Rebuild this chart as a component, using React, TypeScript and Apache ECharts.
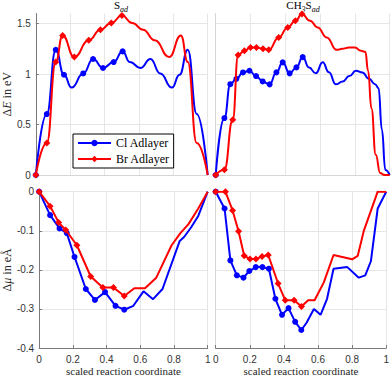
import React, { useEffect, useRef } from 'react';
import * as echarts from 'echarts';

// ---- Data (scaled reaction coordinate, value) ----
// Top-left: S_ad, Delta E (eV)
const tlClX = [0, 0.064, 0.116, 0.164, 0.208, 0.276, 0.333, 0.391, 0.453, 0.505, 0.547, 0.609, 0.667, 0.724, 0.792, 0.836, 0.884, 0.936, 1.0];
const tlClY = [0, 0.604, 1.24, 0.993, 0.866, 1.006, 1.149, 1.06, 1.119, 1.225, 1.119, 1.06, 1.149, 1.006, 0.866, 0.993, 1.24, 0.604, 0];
const tlClMarked = [0, 1, 2, 3, 5, 6, 7, 8, 9];

const tlBrX = [0, 0.064, 0.116, 0.156, 0.224, 0.308, 0.376, 0.439, 0.501, 0.561, 0.624, 0.692, 0.776, 0.844, 0.884, 0.936, 1.0];
const tlBrY = [0, 0.317, 1.119, 1.383, 1.168, 1.334, 1.439, 1.505, 1.581, 1.505, 1.439, 1.334, 1.168, 1.383, 1.119, 0.317, 0];
const tlBrMarked = [0, 1, 2, 3, 4, 5, 6, 7, 8];

// Top-right: CH3S_ad, Delta E (eV)
const trClX = [0, 0.05, 0.084, 0.119, 0.157, 0.194, 0.232, 0.27, 0.31, 0.349, 0.385, 0.425, 0.464, 0.5, 0.536, 0.575, 0.615, 0.651, 0.69, 0.73, 0.768, 0.806, 0.843, 0.881, 0.916, 0.936, 0.955, 0.975, 1.0];
const trClY = [0, 0.564, 0.9, 0.953, 1.016, 1.033, 0.98, 0.927, 0.898, 1.017, 1.116, 1.007, 1.066, 1.168, 1.066, 1.007, 1.116, 1.017, 0.898, 0.927, 0.98, 1.033, 1.016, 0.953, 0.9, 0.86, 0.45, 0.05, 0];
const trClMarked = [0, 1, 2, 3, 4, 5, 6, 7, 8, 9, 10, 11, 12, 13];

const trBrX = [0, 0.05, 0.098, 0.129, 0.165, 0.2, 0.234, 0.272, 0.305, 0.362, 0.414, 0.458, 0.496, 0.542, 0.586, 0.638, 0.695, 0.728, 0.766, 0.8, 0.835, 0.86, 0.876, 0.895, 0.92, 0.945, 0.97, 1.0];
const trBrY = [0, 0.053, 0.548, 1.19, 1.23, 1.264, 1.264, 1.25, 1.24, 1.363, 1.462, 1.528, 1.594, 1.528, 1.462, 1.363, 1.24, 1.25, 1.264, 1.264, 1.23, 1.22, 1.03, 0.66, 0.2, 0.02, 0, 0];
const trBrMarked = [0, 1, 2, 3, 4, 5, 6, 7, 8, 9, 10, 11, 12];

// Bottom-left: S_ad, Delta mu (eÅ)
const blClX = [0, 0.065, 0.121, 0.164, 0.21, 0.277, 0.331, 0.391, 0.453, 0.505, 0.559, 0.619, 0.676, 0.732, 0.834, 0.86, 0.902, 0.944, 1.0];
const blClY = [0, -0.06, -0.094, -0.106, -0.167, -0.249, -0.277, -0.257, -0.292, -0.302, -0.292, -0.255, -0.275, -0.249, -0.126, -0.116, -0.091, -0.062, 0];
const blClMarked = [0, 1, 2, 3, 4, 5, 6, 7, 8, 9];

const blBrX = [0, 0.065, 0.116, 0.158, 0.224, 0.306, 0.378, 0.441, 0.505, 0.565, 0.628, 0.695, 0.786, 0.838, 0.886, 0.944, 1.0];
const blBrY = [0, -0.037, -0.079, -0.098, -0.137, -0.217, -0.245, -0.245, -0.267, -0.247, -0.247, -0.22, -0.137, -0.106, -0.083, -0.043, 0];
const blBrMarked = [0, 1, 2, 3, 4, 5, 6, 7, 8];

// Bottom-right: CH3S_ad, Delta mu (eÅ)
const brClX = [0, 0.052, 0.086, 0.124, 0.163, 0.197, 0.235, 0.274, 0.312, 0.35, 0.389, 0.427, 0.466, 0.502, 0.532, 0.576, 0.615, 0.653, 0.691, 0.772, 0.839, 0.877, 0.91, 0.95, 1.0];
const brClY = [0, -0.043, -0.176, -0.214, -0.22, -0.203, -0.193, -0.193, -0.197, -0.274, -0.315, -0.298, -0.333, -0.354, -0.336, -0.3, -0.315, -0.274, -0.197, -0.193, -0.22, -0.214, -0.178, -0.043, 0];
const brClMarked = [0, 1, 2, 3, 4, 5, 6, 7, 8, 9, 10, 11, 12, 13];

const brBrX = [0, 0.057, 0.099, 0.134, 0.167, 0.201, 0.236, 0.272, 0.308, 0.366, 0.408, 0.46, 0.503, 0.542, 0.58, 0.634, 0.691, 0.8, 0.833, 0.868, 0.91, 0.95, 1.0];
const brBrY = [0, 0, -0.048, -0.101, -0.164, -0.172, -0.172, -0.166, -0.162, -0.235, -0.278, -0.278, -0.294, -0.278, -0.278, -0.232, -0.162, -0.173, -0.164, -0.101, -0.049, 0, 0];
const brBrMarked = [0, 1, 2, 3, 4, 5, 6, 7, 8, 9, 10, 11, 12];

const seriesNames = ['Cl Adlayer', 'Br Adlayer'];
const xTicks = { min: 0, max: 1, interval: 0.2 };
const xLabel = 'scaled reaction coordinate';

const BLUE = '#0000ff';
const RED = '#ff0000';
const SERIF = '"Liberation Serif", "Times New Roman", serif';
const SANS = '"Liberation Sans", Arial, sans-serif';

function buildData(xs: number[], ys: number[], marked: number[]) {
  return xs.map((x, i) => (marked.includes(i) ? { value: [x, ys[i]] } : { value: [x, ys[i]], symbol: 'none' }));
}

export default function App() {
  const ref = useRef<HTMLDivElement>(null);

  useEffect(() => {
    if (!ref.current) return;
    const chart = echarts.init(ref.current, undefined, { renderer: 'svg' });

    const grids = [
      { left: 34, top: 13.5, width: 173.7, height: 161.5 },
      { left: 215.7, top: 13.5, width: 174, height: 161.5 },
      { left: 34, top: 191.7, width: 173.7, height: 161 },
      { left: 215.7, top: 191.7, width: 174, height: 161 },
    ];

    const darkAxis = '#7a7a7a';
    const lightAxis = '#d6d6d6';
    const gridColor = '#e6e6e6';

    const xAxes = grids.map((_, g) => {
      const bottom = g >= 2;
      return {
        gridIndex: g,
        type: 'value',
        min: xTicks.min,
        max: xTicks.max,
        interval: xTicks.interval,
        axisLine: { show: true, onZero: false, lineStyle: { color: bottom ? darkAxis : lightAxis, width: 1 } },
        axisTick: { show: bottom, inside: true, length: 3, lineStyle: { color: darkAxis } },
        axisLabel: { show: bottom, fontSize: 10, color: '#333', margin: 6, fontFamily: SANS },
        splitLine: { show: true, lineStyle: { color: gridColor, width: 1 } },
        name: bottom ? xLabel : '',
        nameLocation: 'middle',
        nameGap: 17,
        nameTextStyle: { fontFamily: SERIF, fontSize: 11, color: '#262626' },
      };
    });

    const yAxes = grids.map((_, g) => {
      const top = g < 2;
      const left = g % 2 === 0;
      const base: any = {
        gridIndex: g,
        type: 'value',
        axisLine: { show: true, onZero: false, lineStyle: { color: left ? darkAxis : lightAxis, width: 1 } },
        axisTick: { show: left, inside: true, length: 3, lineStyle: { color: darkAxis } },
        axisLabel: { show: left, fontSize: 10, color: '#333', margin: 5, fontFamily: SANS, showMaxLabel: !top },
        splitLine: { show: true, showMaxLine: !top, lineStyle: { color: gridColor, width: 1 } },
        nameLocation: 'middle',
        nameGap: 22,
        nameTextStyle: {
          fontFamily: SERIF,
          fontSize: 12,
          color: '#262626',
          rich: { i: { fontFamily: SERIF, fontSize: 12, fontStyle: 'italic', color: '#262626' } },
        },
      };
      if (top) {
        base.min = 0; base.max = 1.6; base.interval = 0.5;
        if (left) base.name = '\u0394{i|E} in eV';
      } else {
        base.min = -0.4; base.max = 0; base.interval = 0.1;
        if (left) base.name = '\u0394{i|\u03bc} in e\u00c5';
      }
      return base;
    });

    const sets = [
      [tlClX, tlClY, tlClMarked, tlBrX, tlBrY, tlBrMarked],
      [trClX, trClY, trClMarked, trBrX, trBrY, trBrMarked],
      [blClX, blClY, blClMarked, blBrX, blBrY, blBrMarked],
      [brClX, brClY, brClMarked, brBrX, brBrY, brBrMarked],
    ] as any[];

    const series: any[] = [];
    sets.forEach((s, g) => {
      const smooth = g < 2 ? 0.5 : false;
      series.push({
        type: 'line', name: seriesNames[0], xAxisIndex: g, yAxisIndex: g,
        data: buildData(s[0], s[1], s[2]), smooth, smoothMonotone: 'x',
        symbol: 'circle', symbolSize: 6, showSymbol: true,
        lineStyle: { width: 2, color: BLUE }, itemStyle: { color: BLUE }, z: 2,
      });
      series.push({
        type: 'line', name: seriesNames[1], xAxisIndex: g, yAxisIndex: g,
        data: buildData(s[3], s[4], s[5]), smooth, smoothMonotone: 'x',
        symbol: 'diamond', symbolSize: 7, showSymbol: true,
        lineStyle: { width: 2, color: RED }, itemStyle: { color: RED }, z: 3,
      });
    });

    const titleRich = {
      n: { fontFamily: SERIF, fontSize: 11, color: '#262626', lineHeight: 12, verticalAlign: 'top' },
      s: { fontFamily: SERIF, fontSize: 8, fontStyle: 'italic', color: '#262626', lineHeight: 8, verticalAlign: 'top', padding: [6, 0, 0, 0] },
    };

    chart.setOption({
      animation: false,
      grid: grids,
      xAxis: xAxes,
      yAxis: yAxes,
      series,
      legend: {
        data: seriesNames,
        orient: 'vertical',
        left: 73,
        top: 134,
        padding: [3, 4, 3, 4],
        itemWidth: 33,
        itemHeight: 8,
        itemGap: 4,
        backgroundColor: '#ffffff',
        borderColor: '#000000',
        borderWidth: 1,
        borderRadius: 0,
        textStyle: { fontFamily: SERIF, fontSize: 12, color: '#000' },
      },
      graphic: [
        { type: 'text', x: 121, y: -1, style: { text: '{n|S}{s|ad}', rich: titleRich, align: 'center', verticalAlign: 'top' } },
        { type: 'text', x: 303, y: -1, style: { text: '{n|CH}{s|3}{n|S}{s|ad}', rich: titleRich, align: 'center', verticalAlign: 'top' } },
      ],
    });

    return () => chart.dispose();
  }, []);

  return (
    <div
      ref={ref}
      style={{ position: 'fixed', left: 0, top: 0, width: 392, height: 377, background: '#fff' }}
    />
  );
}
